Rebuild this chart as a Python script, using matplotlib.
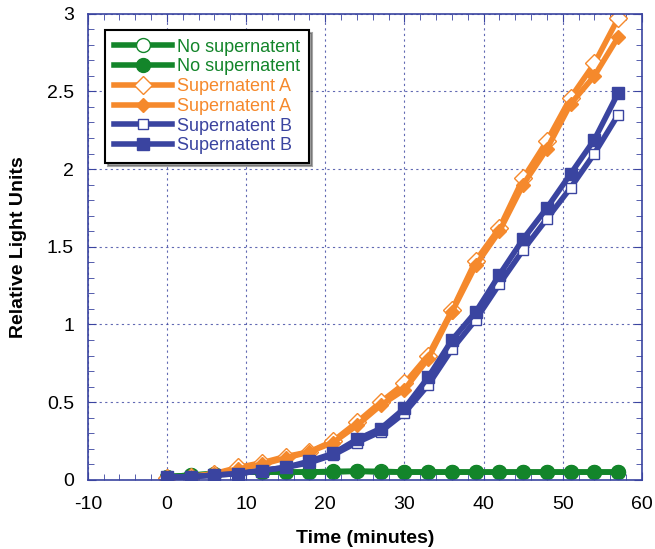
import numpy as np
import matplotlib.pyplot as plt
from matplotlib.ticker import MultipleLocator

plt.rcParams['font.family'] = ['Liberation Sans', 'DejaVu Sans']
plt.rcParams['axes.unicode_minus'] = False

# time points (minutes)
time = [0, 3, 6, 9, 12, 15, 18, 21, 24, 27, 30, 33, 36, 39, 42, 45, 48, 51, 54, 57]

none_open = [0.02, 0.03, 0.04, 0.05, 0.05, 0.05, 0.05, 0.05, 0.055, 0.055, 0.05,
             0.05, 0.05, 0.05, 0.05, 0.05, 0.05, 0.05, 0.05, 0.05]
none_filled = [0.02, 0.03, 0.04, 0.05, 0.05, 0.05, 0.05, 0.055, 0.055, 0.05, 0.05,
               0.05, 0.05, 0.05, 0.05, 0.05, 0.05, 0.05, 0.05, 0.05]
supA_open = [0.01, 0.02, 0.04, 0.08, 0.11, 0.15, 0.18, 0.25, 0.37, 0.5, 0.62,
             0.8, 1.09, 1.41, 1.62, 1.94, 2.18, 2.46, 2.68, 2.97]
supA_filled = [0.0, 0.02, 0.04, 0.07, 0.1, 0.14, 0.18, 0.24, 0.35, 0.48, 0.58,
               0.78, 1.08, 1.38, 1.6, 1.9, 2.13, 2.42, 2.6, 2.85]
supB_open = [0.01, 0.02, 0.03, 0.04, 0.06, 0.08, 0.11, 0.16, 0.24, 0.31, 0.43,
             0.61, 0.84, 1.03, 1.26, 1.48, 1.68, 1.88, 2.1, 2.35]
supB_filled = [0.02, 0.02, 0.03, 0.04, 0.06, 0.08, 0.12, 0.17, 0.26, 0.33, 0.46,
               0.66, 0.9, 1.08, 1.32, 1.55, 1.75, 1.97, 2.19, 2.49]

green = '#13852a'
orange = '#f5892c'
blue = '#3a44a0'

fig = plt.figure(figsize=(6.55, 5.49), dpi=100)
ax = fig.add_axes([0.134, 0.126, 0.846, 0.849])

lw = 4
ax.plot(time, none_open, color=green, lw=lw, marker='o', ms=10, mfc='white', mec=green,
        mew=1, label='No supernatent')
ax.plot(time, none_filled, color=green, lw=lw, marker='o', ms=10, mfc=green, mec=green,
        label='No supernatent')
ax.plot(time, supA_open, color=orange, lw=lw, marker='D', ms=9, mfc='white', mec=orange,
        mew=1, label='Supernatent A')
ax.plot(time, supA_filled, color=orange, lw=lw, marker='D', ms=7, mfc=orange, mec=orange,
        label='Supernatent A')
ax.plot(time, supB_open, color=blue, lw=lw, marker='s', ms=7, mfc='white', mec=blue,
        mew=1, label='Supernatent B')
ax.plot(time, supB_filled, color=blue, lw=lw, marker='s', ms=8, mfc=blue, mec=blue,
        label='Supernatent B')

ax.set_xlim(-10, 60)
ax.set_ylim(0, 3)
ax.xaxis.set_major_locator(MultipleLocator(10))
ax.xaxis.set_minor_locator(MultipleLocator(2))
ax.yaxis.set_minor_locator(MultipleLocator(0.1))
ax.set_yticks([0, 0.5, 1, 1.5, 2, 2.5, 3])
ax.set_yticklabels(['0', '0.5', '1', '1.5', '2', '2.5', '3'])

ax.grid(True, which='major', color=blue, ls=(0, (2, 3)), lw=0.8, alpha=0.8)
ax.set_axisbelow(True)
ax.tick_params(which='both', direction='in', top=True, right=True, color=blue,
               labelsize=14)
ax.tick_params(axis='x', pad=12)
ax.tick_params(axis='y', pad=10)
ax.tick_params(which='major', length=6)
ax.tick_params(which='minor', length=4)
for s in ax.spines.values():
    s.set_color(blue)
    s.set_linewidth(1.2)

ax.set_xlabel('Time (minutes)', fontsize=14, fontweight='bold', labelpad=12)
ax.set_ylabel('Relative Light Units', fontsize=14, fontweight='bold', labelpad=14)

leg = ax.legend(loc='upper left', bbox_to_anchor=(0.015, 0.985), fontsize=13,
                frameon=True, fancybox=False, shadow=True, handlelength=3.2,
                labelspacing=0.15, handletextpad=0.3, borderpad=0.5)
leg.get_frame().set_edgecolor('black')
leg.get_frame().set_linewidth(1.5)
for txt, c in zip(leg.get_texts(), [green, green, orange, orange, blue, blue]):
    txt.set_color(c)

fig.savefig('out.png', dpi=100)
